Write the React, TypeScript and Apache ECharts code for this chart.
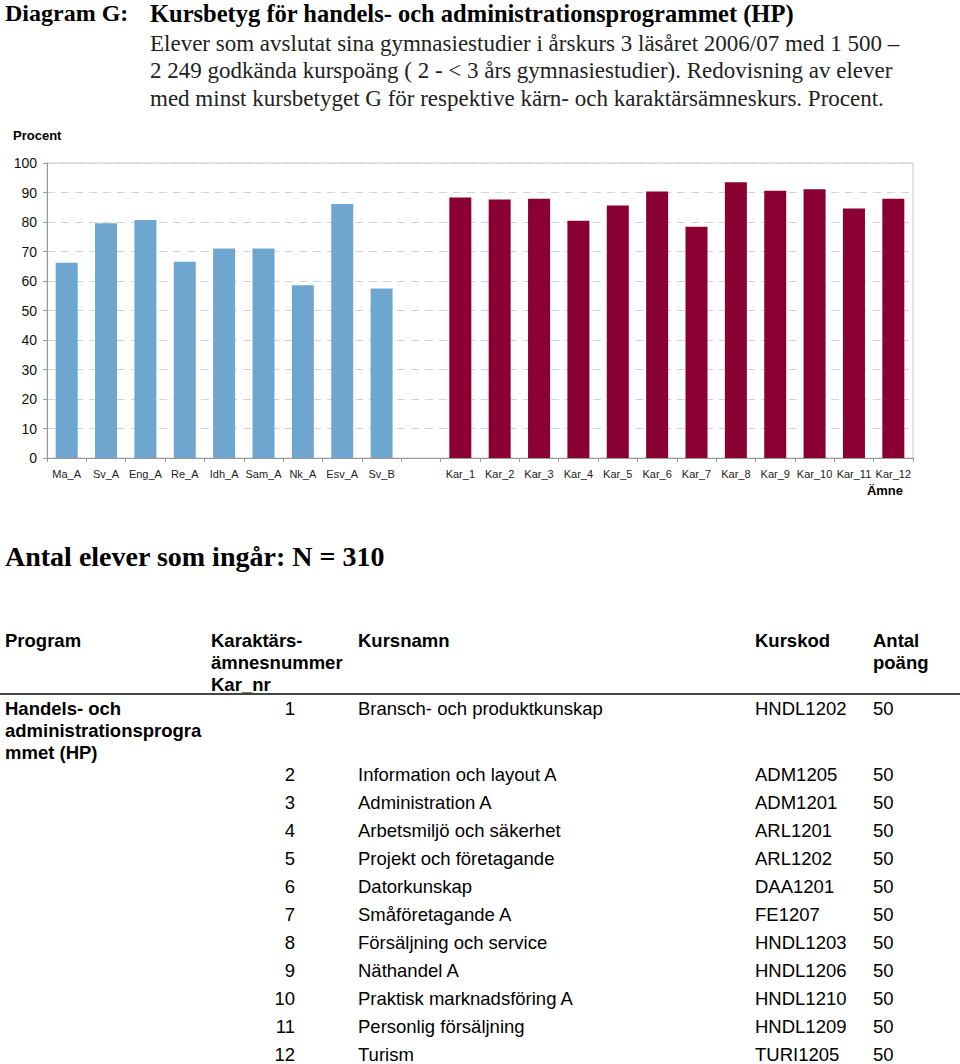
import React, { useEffect, useRef } from "react";
import * as echarts from "echarts";

const coreCategories = ["Ma_A", "Sv_A", "Eng_A", "Re_A", "Idh_A", "Sam_A", "Nk_A", "Esv_A", "Sv_B"];
const coreValues = [66.2, 79.6, 80.7, 66.5, 71.0, 71.0, 58.6, 86.1, 57.5];
const karCategories = ["Kar_1", "Kar_2", "Kar_3", "Kar_4", "Kar_5", "Kar_6", "Kar_7", "Kar_8", "Kar_9", "Kar_10", "Kar_11", "Kar_12"];
const karValues = [88.3, 87.6, 87.9, 80.4, 85.6, 90.3, 78.4, 93.5, 90.6, 91.1, 84.6, 87.9];
const yMin = 0;
const yMax = 100;
const yInterval = 10;

const titleLead = "Diagram G:";
const titleMain = "Kursbetyg för handels- och administrationsprogrammet (HP)";
const subtitleLines = [
  "Elever som avslutat sina gymnasiestudier i årskurs 3 läsåret 2006/07 med 1 500 –",
  "2 249 godkända kurspoäng ( 2 - < 3 års gymnasiestudier). Redovisning av elever",
  "med minst kursbetyget G för respektive kärn- och karaktärsämneskurs. Procent.",
];
const countText = "Antal elever som ingår: N = 310";

const headerProgram = ["Program"];
const headerKarNr = ["Karaktärs-", "ämnesnummer", "Kar_nr"];
const headerName = ["Kursnamn"];
const headerCode = ["Kurskod"];
const headerPoints = ["Antal", "poäng"];
const programLines = ["Handels- och", "administrationsprogra", "mmet (HP)"];

const courseNumbers = [1, 2, 3, 4, 5, 6, 7, 8, 9, 10, 11, 12];
const courseNames = [
  "Bransch- och produktkunskap",
  "Information och layout A",
  "Administration A",
  "Arbetsmiljö och säkerhet",
  "Projekt och företagande",
  "Datorkunskap",
  "Småföretagande A",
  "Försäljning och service",
  "Näthandel A",
  "Praktisk marknadsföring A",
  "Personlig försäljning",
  "Turism",
];
const courseCodes = ["HNDL1202", "ADM1205", "ADM1201", "ARL1201", "ARL1202", "DAA1201", "FE1207", "HNDL1203", "HNDL1206", "HNDL1210", "HNDL1209", "TURI1205"];
const coursePoints = [50, 50, 50, 50, 50, 50, 50, 50, 50, 50, 50, 50];

const SANS = "'Liberation Sans', Arial, Helvetica, sans-serif";
const SERIF = "'Liberation Serif', 'Times New Roman', serif";

export default function App() {
  const ref = useRef<HTMLDivElement>(null);

  useEffect(() => {
    document.body.style.margin = "0";
    if (!ref.current) return;
    const chart = echarts.init(ref.current, undefined, { renderer: "svg" });

    const categories = [...coreCategories, "", ...karCategories];
    const gap = 1;
    const coreData = [...coreValues, ...new Array(gap + karValues.length).fill("-")];
    const karData = [...new Array(coreValues.length + gap).fill("-"), ...karValues];

    const graphic: any[] = [];
    const txt = (x: number, y: number, text: string, font: any, align = "left") =>
      graphic.push({
        type: "text",
        x,
        y,
        silent: true,
        style: { text, textAlign: align, textVerticalAlign: "middle", fill: "#000", ...font },
      });

    // Title block
    txt(5, 13, titleLead, { fontFamily: SERIF, fontWeight: "bold", fontSize: 24 });
    txt(150, 13, titleMain, { fontFamily: SERIF, fontWeight: "bold", fontSize: 24.5 });
    subtitleLines.forEach((l, i) =>
      txt(150, 43 + i * 27.5, l, { fontFamily: SERIF, fontSize: 23, fill: "#222" })
    );

    // axis captions
    txt(13, 135, "Procent", { fontFamily: SANS, fontWeight: "bold", fontSize: 13 });
    txt(903, 490, "Ämne", { fontFamily: SANS, fontWeight: "bold", fontSize: 13 }, "right");

    txt(5, 556, countText, { fontFamily: SERIF, fontWeight: "bold", fontSize: 28 });

    // Table header
    const hdrFont = { fontFamily: SANS, fontWeight: "bold", fontSize: 18.5 };
    const hy = 640;
    const lh = 22;
    headerProgram.forEach((l, i) => txt(5, hy + i * lh, l, hdrFont));
    headerKarNr.forEach((l, i) => txt(211, hy + i * lh, l, hdrFont));
    headerName.forEach((l, i) => txt(358, hy + i * lh, l, hdrFont));
    headerCode.forEach((l, i) => txt(755, hy + i * lh, l, hdrFont));
    headerPoints.forEach((l, i) => txt(873, hy + i * lh, l, hdrFont));
    graphic.push({
      type: "line",
      silent: true,
      shape: { x1: 0, y1: 694, x2: 960, y2: 694 },
      style: { stroke: "#444", lineWidth: 2 },
    });

    programLines.forEach((l, i) => txt(5, 708 + i * lh, l, hdrFont));
    const rowFont = { fontFamily: SANS, fontSize: 18.5 };
    courseNames.forEach((name, i) => {
      const y = i === 0 ? 708 : 774 + (i - 1) * 28;
      txt(295, y, String(courseNumbers[i]), rowFont, "right");
      txt(358, y, name, rowFont);
      txt(755, y, courseCodes[i], rowFont);
      txt(873, y, String(coursePoints[i]), rowFont);
    });

    chart.setOption({
      animation: false,
      backgroundColor: "#fff",
      grid: {
        left: 47,
        right: 47,
        top: 163,
        height: 295,
        show: true,
        borderColor: "#c8c8c8",
        borderWidth: 1,
      },
      xAxis: {
        type: "category",
        data: categories,
        axisLine: { show: true, lineStyle: { color: "#999" } },
        axisTick: { show: true, length: 4, lineStyle: { color: "#999" } },
        axisLabel: {
          interval: 0,
          fontFamily: SANS,
          fontSize: 11,
          color: "#222",
          margin: 10,
        },
      },
      yAxis: {
        type: "value",
        min: yMin,
        max: yMax,
        interval: yInterval,
        axisLine: { show: true, lineStyle: { color: "#999" } },
        axisTick: { show: true, length: 4, lineStyle: { color: "#999" } },
        axisLabel: { fontFamily: SANS, fontSize: 14, color: "#111", margin: 10 },
        splitLine: { show: true, lineStyle: { color: "#d4d4d4", type: [8, 6], width: 1 } },
      },
      series: [
        {
          type: "bar",
          name: "Kärnämnen",
          data: coreData,
          barWidth: 22,
          barGap: "-100%",
          itemStyle: { color: "#6fa6cf" },
        },
        {
          type: "bar",
          name: "Karaktärsämnen",
          data: karData,
          barWidth: 22,
          barGap: "-100%",
          itemStyle: { color: "#8a0033" },
        },
      ],
      graphic,
    });

    return () => chart.dispose();
  }, []);

  return <div ref={ref} style={{ width: 960, height: 1064 }} />;
}
